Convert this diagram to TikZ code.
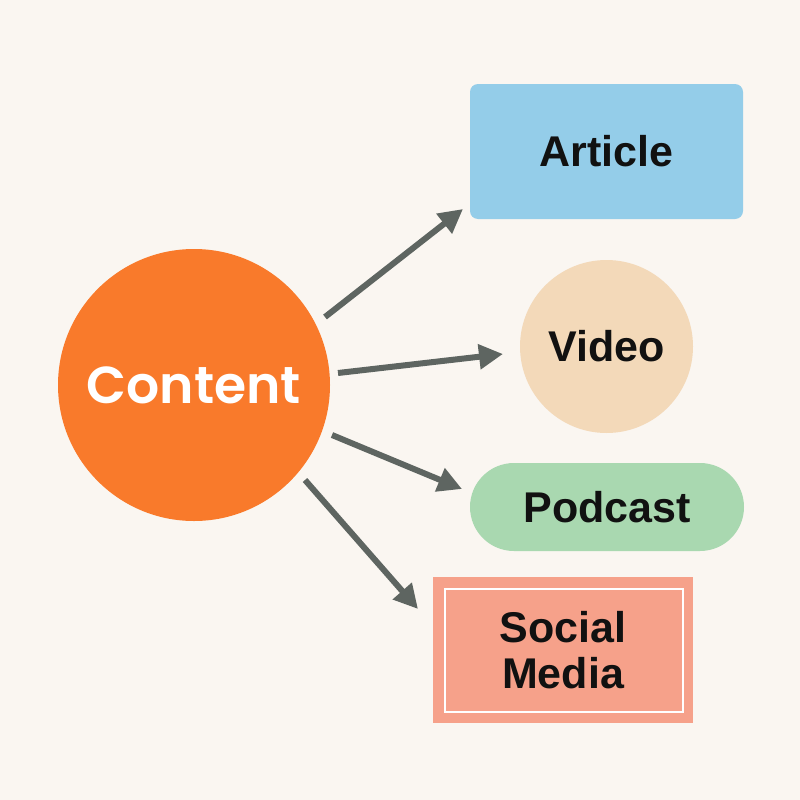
\documentclass[tikz,border=0pt]{standalone}
\usepackage{fontspec}
\setmainfont{Liberation Sans}
\newfontfamily\contentfont{Poppins SemiBold}
\usetikzlibrary{arrows.meta}
\definecolor{bg}{HTML}{FAF6F1}
\definecolor{orangec}{HTML}{F97A2B}
\definecolor{bluec}{HTML}{94CDE9}
\definecolor{peachc}{HTML}{F3D9B9}
\definecolor{greenc}{HTML}{A9D8B0}
\definecolor{salmonc}{HTML}{F6A18A}
\definecolor{arrowc}{HTML}{5E6561}
\definecolor{txt}{HTML}{111111}
\tikzset{
  lbl/.style={text=txt, font=\fontsize{43}{46}\selectfont\bfseries, align=center},
  conn/.style={draw=arrowc, line width=6pt, -{Triangle[length=24pt,width=24pt]}}
}
\begin{document}
\begin{tikzpicture}[x=1pt,y=-1pt]
\fill[bg] (0,0) rectangle (800,800);
\useasboundingbox (0,0) rectangle (800,800);
% nodes
\node[circle, fill=orangec, minimum size=272pt, inner sep=0pt, text=white,
  font=\fontsize{52}{56}\contentfont] (content) at (194,385) {Content};
\node[fill=bluec, rounded corners=8pt, minimum width=273pt, minimum height=135pt, inner sep=0pt, lbl] (article) at (606.5,151.5) {Article};
\node[circle, fill=peachc, minimum size=173pt, inner sep=0pt, lbl] (video) at (606.5,346.5) {Video};
\node[fill=greenc, rounded corners=44pt, minimum width=274pt, minimum height=88pt, inner sep=0pt, lbl] (podcast) at (607,507) {Podcast};
\node[fill=salmonc, minimum width=260pt, minimum height=146pt, inner sep=0pt, lbl] (social) at (563,650) {Social\\Media};
\coordinate (s1) at (445,589); \coordinate (s2) at (683,712);
\draw[white, line width=2pt] (s1) rectangle (s2);
% connector endpoints
\coordinate (a1) at (325,317); \coordinate (b1) at (463,209);
\coordinate (a2) at (338,373); \coordinate (b2) at (503,354);
\coordinate (a3) at (332,435); \coordinate (b3) at (462,489);
\coordinate (a4) at (305,480); \coordinate (b4) at (418,609);
\draw[conn] (a1) -- (b1);
\draw[conn] (a2) -- (b2);
\draw[conn] (a3) -- (b3);
\draw[conn] (a4) -- (b4);
\end{tikzpicture}
\end{document}
